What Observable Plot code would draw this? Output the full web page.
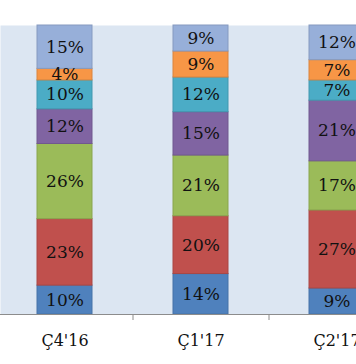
<!DOCTYPE html>
<html>
<head>
<meta charset="utf-8">
<script src="https://cdn.jsdelivr.net/npm/d3@7"></script>
<script src="https://cdn.jsdelivr.net/npm/@observablehq/plot@0.6"></script>
<style>
  html, body { margin: 0; padding: 0; background: #fff; }
  svg { display: block; }
</style>
</head>
<body>
<div id="chart"></div>
<script>
const categories = ["Ç4'16", "Ç1'17", "Ç2'17"];
const seriesNames = ["Seri 1", "Seri 2", "Seri 3", "Seri 4", "Seri 5", "Seri 6", "Seri 7"];
const s1 = [10, 14, 9];
const s2 = [23, 20, 27];
const s3 = [26, 21, 17];
const s4 = [12, 15, 21];
const s5 = [10, 12, 7];
const s6 = [4, 9, 7];
const s7 = [15, 9, 12];
const seriesColors = ["#4F81BD", "#C0504D", "#9BBB59", "#8064A2", "#4BACC6", "#F79646", "#97AFD9"];

const allSeries = [s1, s2, s3, s4, s5, s6, s7];
const data = [];
allSeries.forEach((vals, si) => {
  vals.forEach((v, ci) => {
    data.push({category: categories[ci], series: seriesNames[si], value: v});
  });
});
const strokeOf = Object.fromEntries(seriesNames.map((s, i) => [s, d3.color(seriesColors[i]).darker(0.35).formatHex()]));

const chart = Plot.plot({
  width: 356,
  height: 364,
  marginLeft: 0,
  marginRight: 0,
  marginTop: 25,
  marginBottom: 50,
  style: {fontFamily: "'DejaVu Serif', serif", background: "#ffffff"},
  x: {domain: categories, range: [-4, 404], paddingInner: 0.596, paddingOuter: 0.298, label: null},
  y: {domain: [0, 100], axis: null},
  color: {domain: seriesNames, range: seriesColors},
  marks: [
    Plot.frame({fill: "#DCE6F2", stroke: null}),
    Plot.barY(data, Plot.stackY({
      x: "category", y: "value", z: "series", fill: "series",
      stroke: d => strokeOf[d.series], strokeWidth: 1
    })),
    Plot.text(data, Plot.stackY({
      x: "category", y: "value", z: "series",
      text: d => d.value + "%", fontSize: 17, fill: "#111"
    })),
    Plot.ruleY([0], {stroke: "#8C8C8C", strokeWidth: 1}),
    Plot.axisX({tickSize: 6, dx: 68, text: null, stroke: "#8C8C8C"}),
    Plot.axisX({tickSize: 0, tickPadding: 20, fontSize: 16, fill: "#111", label: null})
  ]
});
document.getElementById("chart").appendChild(chart);
</script>
</body>
</html>
